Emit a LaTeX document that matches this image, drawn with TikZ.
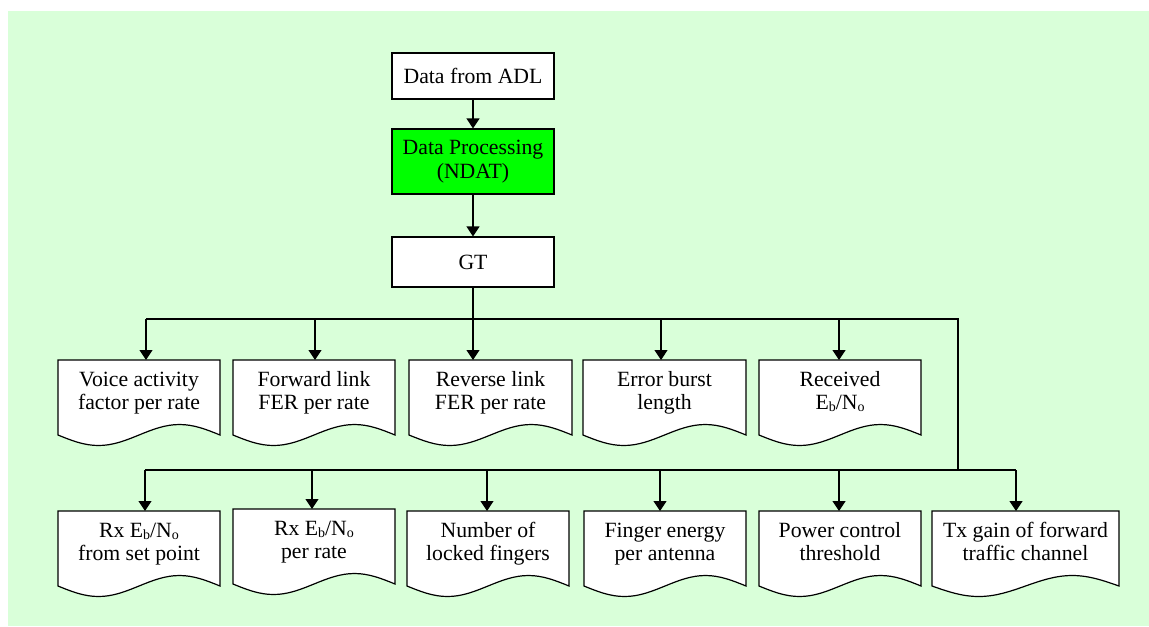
\documentclass[tikz,border=0pt]{standalone}
\usepackage{fontspec}
\setmainfont{Liberation Serif}
\usetikzlibrary{arrows.meta,calc,backgrounds}
\definecolor{panelgreen}{RGB}{217,255,217}
\definecolor{procgreen}{RGB}{0,255,0}
% text block of a document-shaped box: width in px, first baseline near the top
\newcommand{\docbody}[2]{\parbox[c][56.25pt][t]{\dimexpr#1pt*3/4\relax}{\centering\rule{0pt}{19.5pt}#2}}
\newcommand{\lowidx}[1]{\raisebox{-0.25ex}{\fontsize{10.5}{10.5}\selectfont#1}}
\newcommand{\EbNo}{E\lowidx{b}/N\lowidx{o}}
\begin{document}
\begin{tikzpicture}[x=0.75pt,y=-0.75pt,
  every node/.style={font=\fontsize{16.3}{17.5}\selectfont},
  topbox/.style={draw,line width=0.9pt,fill=white,minimum width=121.5pt,inner sep=0pt,align=center},
  docnode/.style={anchor=north west,inner sep=0pt,outer sep=0pt},
  docline/.style={draw,line width=0.9pt,fill=white},
  wire/.style={line width=0.9pt},
  arr/.style={wire,-{Triangle[length=7.5pt,width=9.75pt]}}]
\useasboundingbox (0,0) rectangle (1149,626);
\begin{pgfonlayer}{background}
  \fill[panelgreen] (8,11) rectangle (1149,626);
\end{pgfonlayer}

% processing chain
\node[topbox,minimum height=34.5pt] (adl) at (473,76) {Data from ADL};
\node[topbox,minimum height=48.75pt,fill=procgreen] (ndat) at (473,161.5) {Data Processing\\(NDAT)};
\node[topbox,minimum height=37.5pt] (gt) at (473,262) {GT};

% first row of outputs
\node[docnode] (voice) at (58,360) {\docbody{162}{Voice activity\\factor per rate}};
\node[docnode] (fwd)   at (233,360) {\docbody{162}{Forward link\\FER per rate}};
\node[docnode] (rev)   at (409,360) {\docbody{163}{Reverse link\\FER per rate}};
\node[docnode] (burst) at (583,360) {\docbody{163}{Error burst\\length}};
\node[docnode] (recv)  at (759,360) {\docbody{162}{Received\\\EbNo}};

% second row of outputs
\node[docnode] (rxset)  at (58,511) {\docbody{162}{Rx \EbNo\\from set point}};
\node[docnode] (rxrate) at (233,509) {\docbody{162}{Rx \EbNo\\per rate}};
\node[docnode] (locked) at (407,511) {\docbody{162}{Number of\\locked fingers}};
\node[docnode] (energy) at (584,511) {\docbody{162}{Finger energy\\per antenna}};
\node[docnode] (pcthr)  at (759,511) {\docbody{162}{Power control\\threshold}};
\node[docnode] (txgain) at (932,511) {\docbody{187}{Tx gain of forward\\traffic channel}};

% document outlines with a wavy lower edge
\begin{pgfonlayer}{background}
\foreach \n in {voice,fwd,rev,burst,recv,rxset,rxrate,locked,energy,pcthr,txgain}{
  \path[docline] (\n.south west)
    sin ($(\n.south west)!0.25!(\n.south east)+(0,10.5)$)
    cos ($(\n.south west)!0.5!(\n.south east)$)
    sin ($(\n.south west)!0.75!(\n.south east)+(0,-10.5)$)
    cos (\n.south east) -- (\n.north east) -- (\n.north west) -- cycle;
}
\end{pgfonlayer}

% connectors
\draw[arr] (adl) -- (ndat);
\draw[arr] (ndat) -- (gt);
\draw[arr] (gt) -- (gt.south |- rev.north);

\coordinate (k1) at (146,319);
\coordinate (k2) at (315,319);
\coordinate (k4) at (661,319);
\coordinate (k5) at (839,319);
\coordinate (kr) at (958,319);
\coordinate (m1) at (145,470);
\coordinate (m2) at (312,470);
\coordinate (m3) at (487,470);
\coordinate (m4) at (660,470);
\coordinate (m5) at (839,470);
\coordinate (m6) at (1016,470);
\coordinate (mr) at (958,470);

\draw[wire] (k1) -- (kr) -- (mr);
\draw[wire] (m1) -- (m6);

\draw[arr] (k1) -- (k1 |- voice.north);
\draw[arr] (k2) -- (k2 |- fwd.north);
\draw[arr] (k4) -- (k4 |- burst.north);
\draw[arr] (k5) -- (k5 |- recv.north);

\draw[arr] (m1) -- (m1 |- rxset.north);
\draw[arr] (m2) -- (m2 |- rxrate.north);
\draw[arr] (m3) -- (m3 |- locked.north);
\draw[arr] (m4) -- (m4 |- energy.north);
\draw[arr] (m5) -- (m5 |- pcthr.north);
\draw[arr] (m6) -- (m6 |- txgain.north);
\end{tikzpicture}
\end{document}
